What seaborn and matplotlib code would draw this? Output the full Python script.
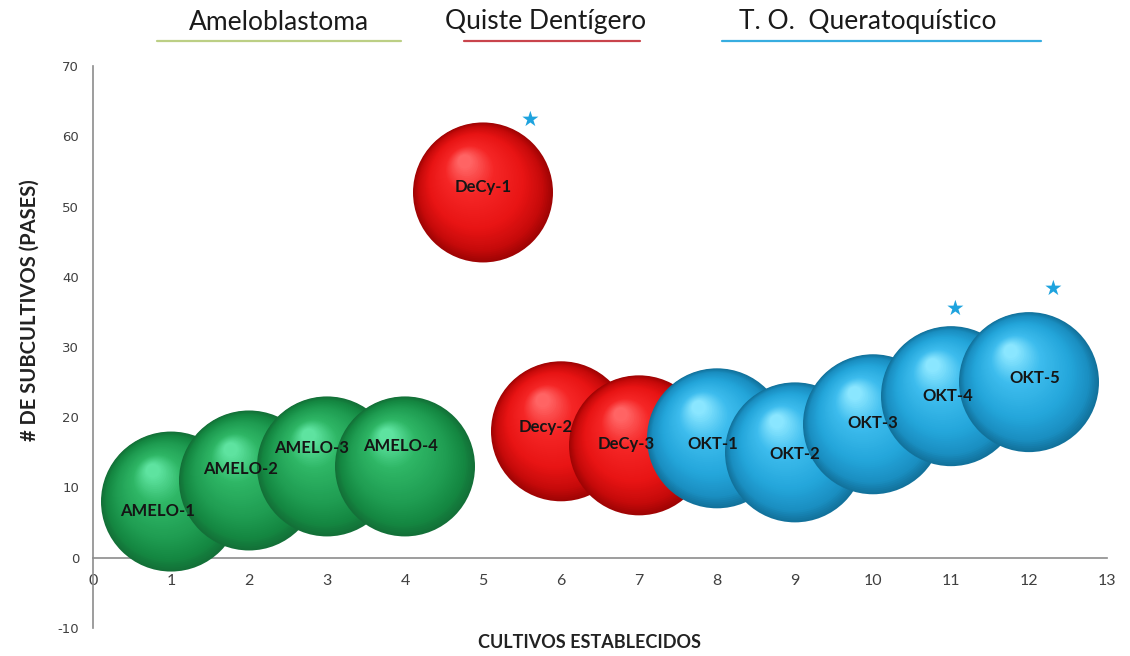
import numpy as np
import pandas as pd
import matplotlib
matplotlib.use("Agg")
import matplotlib.pyplot as plt
from matplotlib.colors import LinearSegmentedColormap, to_hex
from matplotlib.lines import Line2D
import seaborn as sns

# ---- data -------------------------------------------------------------
samples = ["AMELO-1", "AMELO-2", "AMELO-3", "AMELO-4",
           "DeCy-1", "Decy-2", "DeCy-3",
           "OKT-1", "OKT-2", "OKT-3", "OKT-4", "OKT-5"]
cultivos = [1, 2, 3, 4, 5, 6, 7, 8, 9, 10, 11, 12]
pases = [8, 11, 13, 13, 52, 18, 16, 17, 15, 19, 23, 25]
grupo = ["Ameloblastoma"] * 4 + ["Quiste Dentígero"] * 3 + ["T. O.  Queratoquístico"] * 5
destacados = ["DeCy-1", "OKT-4", "OKT-5"]

x_ticks = list(range(0, 14))
y_ticks = list(range(-10, 71, 10))

# ---- style ------------------------------------------------------------
sns.set_style("white")
plt.rcParams["font.family"] = ["Lato", "DejaVu Sans"]

W, H, DPI = 1130, 656, 100
fig = plt.figure(figsize=(W / DPI, H / DPI), dpi=DPI)
ax = fig.add_axes([93 / W, 1 - 628 / H, (1107 - 93) / W, (628 - 66) / H])
xmin, xmax, ymin, ymax = 0, 13, -10, 70

# pixels per data unit, used to place the shading layers of each sphere
ax_w_px = (1107 - 93)
ax_h_px = (628 - 66)
px_x = ax_w_px / (xmax - xmin)
px_y = ax_h_px / (ymax - ymin)

# sphere shading ramps: rim -> shadow -> body -> light -> highlight
ramps = {
    "Ameloblastoma": ["#137038", "#148741", "#1f9d52", "#2fb766", "#5ee3a0"],
    "Quiste Dentígero": ["#a00404", "#c60a0a", "#e81414", "#f52626", "#ff6464"],
    "T. O.  Queratoquístico": ["#12729c", "#1a8fc2", "#24a6db", "#3ebdee", "#8ae6ff"],
}
ramp_pos = [0.0, 0.12, 0.35, 0.72, 1.0]
header_colors = {
    "Ameloblastoma": "#bccf85",
    "Quiste Dentígero": "#c9444c",
    "T. O.  Queratoquístico": "#37ade0",
}

R_px = 70                      # sphere radius in pixels
R_pt = R_px * 72 / DPI
n_layers = 50
t = np.linspace(0, 1, n_layers)
radius_frac = 1 - 0.9 * t
hl_dx, hl_dy = -0.26 * R_px, 0.44 * R_px   # highlight direction (px, y up)

for i, (name, cx, cy, g) in enumerate(zip(samples, cultivos, pases, grupo)):
    cmap = LinearSegmentedColormap.from_list(g, list(zip(ramp_pos, ramps[g])))
    layers = pd.DataFrame({
        "x": cx + t * hl_dx / px_x,
        "y": cy + t * hl_dy / px_y,
        "layer": np.arange(n_layers),
    })
    palette = [to_hex(cmap(v)) for v in t]
    sizes = {k: (2 * R_pt * radius_frac[k]) ** 2 for k in range(n_layers)}
    sns.scatterplot(data=layers, x="x", y="y", hue="layer", palette=palette,
                    size="layer", sizes=sizes, linewidth=0, legend=False,
                    ax=ax, zorder=3 + i * 0.01)

# name labels on the spheres (offsets in points)
label_offsets = {
    "AMELO-1": (-10, -7), "AMELO-2": (-6, 8), "AMELO-3": (-11, 13),
    "AMELO-4": (-3, 15), "DeCy-1": (0, 4), "Decy-2": (-11, 3),
    "DeCy-3": (-9, 1), "OKT-1": (-3, -4), "OKT-2": (0, -1),
    "OKT-3": (0, 1), "OKT-4": (-2, 0), "OKT-5": (4, 3),
}
for name, cx, cy in zip(samples, cultivos, pases):
    ax.annotate(name, (cx, cy), xytext=label_offsets[name],
                textcoords="offset points", ha="center", va="center",
                fontsize=12, fontweight="bold", color="#151515", zorder=20)

# stars above the highlighted cultures (offsets in points)
star_offsets = {"DeCy-1": (34, 52), "OKT-4": (3, 63), "OKT-5": (17, 67)}
for name, cx, cy in zip(samples, cultivos, pases):
    if name in destacados:
        ax.annotate("★", (cx, cy), xytext=star_offsets[name],
                    textcoords="offset points", ha="center", va="center",
                    fontsize=15, color="#1ea3de", family="DejaVu Sans", zorder=20)

# ---- axes -------------------------------------------------------------
ax.set_xlim(xmin, xmax)
ax.set_ylim(ymin, ymax)
ax.set_xlabel("")
ax.set_ylabel("")
for s in ["top", "right"]:
    ax.spines[s].set_visible(False)
ax.spines["bottom"].set_position(("data", 0))
for s in ["left", "bottom"]:
    ax.spines[s].set_color("#8c8c8c")
    ax.spines[s].set_linewidth(1.2)
    ax.spines[s].set_zorder(1)

ax.set_xticks(x_ticks)
ax.set_xticklabels([str(v) for v in x_ticks], fontsize=11.5, color="#404040")
ax.set_yticks(y_ticks)
ax.set_yticklabels([str(v) for v in y_ticks], fontsize=9.5, color="#404040",
                   family="DejaVu Sans")
ax.tick_params(axis="x", length=0, pad=12)
ax.tick_params(axis="y", length=0, pad=10)

fig.text(30 / W, 1 - 310 / H, "# DE SUBCULTIVOS (PASES)", rotation=90,
         ha="center", va="center", fontsize=14.5, fontweight="bold", color="#222222")
fig.text(590 / W, 1 - 643 / H, "CULTIVOS ESTABLECIDOS", ha="center", va="center",
         fontsize=13, fontweight="bold", color="#222222")

# group headers with coloured underline
headers = [("Ameloblastoma", 279, 157, 401),
           ("Quiste Dentígero", 546, 464, 640),
           ("T. O.  Queratoquístico", 868, 722, 1041)]
for g, xc, x0, x1 in headers:
    fig.text(xc / W, 1 - 22 / H, g, ha="center", va="center", fontsize=19,
             color="#1a1a1a")
    fig.add_artist(Line2D([x0 / W, x1 / W], [1 - 41 / H] * 2,
                          transform=fig.transFigure, color=header_colors[g], lw=1.6))

fig.savefig("out.png", dpi=DPI, facecolor="white")
